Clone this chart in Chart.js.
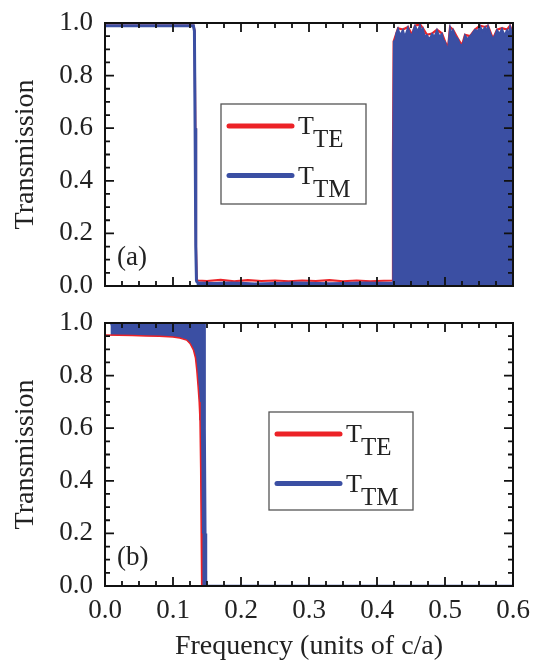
<!DOCTYPE html>
<html>
<head>
<meta charset="utf-8">
<script src="https://cdn.jsdelivr.net/npm/chart.js@4.4.1/dist/chart.umd.min.js"></script>
<style>
  html, body { margin: 0; padding: 0; background: #fff; }
  #wrap { position: relative; width: 540px; height: 662px; }
  #chartA { position: absolute; left: 0; top: 0; }
  #chartB { position: absolute; left: 0; top: 300px; }
</style>
</head>
<body>
<div id="wrap">
  <canvas id="chartA" width="540" height="300"></canvas>
  <canvas id="chartB" width="540" height="362"></canvas>
</div>
<script>
// Panel (a): [frequency, transmission] pairs
const teA = [
  [0, 0.99], [0.05, 0.99], [0.1, 0.99], [0.13, 0.99], [0.1318, 0.97], [0.1328, 0.6],
  [0.1338, 0.15], [0.1348, 0.03], [0.1358, 0.021], [0.15, 0.019], [0.17, 0.023],
  [0.19, 0.018], [0.21, 0.022], [0.23, 0.019], [0.25, 0.021], [0.27, 0.018],
  [0.29, 0.021], [0.31, 0.019], [0.33, 0.022], [0.35, 0.018], [0.37, 0.021],
  [0.39, 0.018], [0.41, 0.02], [0.4225, 0.021], [0.4235, 0.5], [0.4245, 0.93],
  [0.4309, 0.98], [0.4382, 0.975], [0.4456, 0.985], [0.4515, 0.955], [0.4559, 0.99],
  [0.4632, 0.995], [0.4676, 0.98], [0.4735, 0.955], [0.4809, 0.96], [0.4882, 0.975],
  [0.4956, 0.96], [0.5, 0.93], [0.5044, 0.905], [0.5074, 0.985], [0.5118, 0.975],
  [0.5191, 0.94], [0.525, 0.915], [0.5294, 0.955], [0.5368, 0.95], [0.5441, 0.975],
  [0.5515, 0.99], [0.5588, 0.985], [0.5632, 0.99], [0.5706, 0.94], [0.5765, 0.975],
  [0.5838, 0.98], [0.5912, 0.975], [0.5956, 0.99], [0.6, 0.96]
];
const tmEdgeA = [
  [0, 0.99], [0.05, 0.99], [0.1, 0.99], [0.13, 0.99], [0.1315, 0.97],
  [0.1325, 0.6], [0.1335, 0.15], [0.1345, 0.02], [0.136, 0.012]
];
const tmBandA = [
  [0.1345, 0.014], [0.16, 0.012], [0.18, 0.014], [0.2, 0.013], [0.22, 0.01],
  [0.25, 0.012], [0.28, 0.014], [0.3, 0.013], [0.33, 0.011], [0.35, 0.012],
  [0.38, 0.014], [0.4, 0.013], [0.4225, 0.014], [0.4235, 0.5], [0.4245, 0.93],
  [0.4265, 0.935], [0.428, 0.96], [0.4309, 0.98], [0.434, 0.955], [0.4382, 0.975],
  [0.441, 0.95], [0.4456, 0.985], [0.4485, 0.96], [0.4515, 0.955], [0.4535, 0.975],
  [0.4559, 0.99], [0.46, 0.97], [0.4632, 0.995], [0.4655, 0.97], [0.4676, 0.98],
  [0.4705, 0.95], [0.4735, 0.955], [0.477, 0.94], [0.4809, 0.96], [0.4845, 0.95],
  [0.4882, 0.975], [0.492, 0.95], [0.4956, 0.96], [0.498, 0.935], [0.5, 0.93],
  [0.5025, 0.91], [0.5044, 0.905], [0.506, 0.95], [0.5074, 0.985], [0.5095, 0.96],
  [0.5118, 0.975], [0.5155, 0.95], [0.5191, 0.94], [0.522, 0.92], [0.525, 0.915],
  [0.527, 0.93], [0.5294, 0.955], [0.533, 0.94], [0.5368, 0.95], [0.54, 0.96],
  [0.5441, 0.975], [0.548, 0.97], [0.5515, 0.99], [0.555, 0.97], [0.5588, 0.985],
  [0.561, 0.97], [0.5632, 0.99], [0.567, 0.96], [0.5706, 0.94], [0.5735, 0.955],
  [0.5765, 0.975], [0.58, 0.96], [0.5838, 0.98], [0.5875, 0.955], [0.5912, 0.975],
  [0.5935, 0.96], [0.5956, 0.99], [0.598, 0.97], [0.6, 0.96]
];

// Panel (b)
const teB = [
  [0, 0.954], [0.02, 0.953], [0.04, 0.952], [0.06, 0.951], [0.08, 0.95],
  [0.1, 0.947], [0.11, 0.943], [0.12, 0.935], [0.125, 0.922], [0.13, 0.898],
  [0.133, 0.868], [0.135, 0.82], [0.137, 0.755], [0.1385, 0.7], [0.1397, 0.63],
  [0.1407, 0.45], [0.1415, 0.2], [0.1422, 0], [0.3, 0], [0.6, 0]
];
const tmB = [
  [0.008, 0.996], [0.05, 0.996], [0.1, 0.996], [0.14, 0.996], [0.1456, 0.996],
  [0.1465, 0.6], [0.1475, 0.2], [0.1485, 0], [0.3, 0], [0.6, 0]
];

const legendNames = ["TE", "TM"];
const panelLabels = ["(a)", "(b)"];
const xTitle = "Frequency (units of c/a)";
const yTitle = "Transmission";

const RED = "#ec2227";
const BLUE = "#3b4fa3";
const SERIF = "'Liberation Serif', 'DejaVu Serif', serif";

function toPoints(pairs) {
  return pairs.map((p) => ({ x: p[0], y: p[1] }));
}

// Frame with inward ticks on all sides, plus the panel label
const frameTicks = {
  id: "frameTicks",
  afterDatasetsDraw(chart, args, opts) {
    const { ctx, chartArea: a } = chart;
    const xs = chart.scales.x;
    const ys = chart.scales.y;
    ctx.save();
    ctx.strokeStyle = "#111";
    ctx.lineWidth = 1.8;
    ctx.beginPath();
    for (let i = 0; i <= 24; i++) {
      const px = xs.getPixelForValue(i * 0.025);
      const len = i % 4 === 0 ? 9 : 5;
      ctx.moveTo(px, a.bottom);
      ctx.lineTo(px, a.bottom - len);
      ctx.moveTo(px, a.top);
      ctx.lineTo(px, a.top + len);
    }
    for (let i = 0; i <= 20; i++) {
      const py = ys.getPixelForValue(i * 0.05);
      const len = i % 4 === 0 ? 9 : 5;
      ctx.moveTo(a.left, py);
      ctx.lineTo(a.left + len, py);
      ctx.moveTo(a.right, py);
      ctx.lineTo(a.right - len, py);
    }
    ctx.stroke();
    ctx.lineWidth = 2;
    ctx.strokeRect(a.left, a.top, a.right - a.left, a.bottom - a.top);
    ctx.fillStyle = "#222";
    ctx.font = "27px " + SERIF;
    ctx.textBaseline = "middle";
    ctx.textAlign = "left";
    ctx.fillText(opts.label, a.left + 12, a.bottom - 28);
    ctx.restore();
  },
};

// Boxed legend with subscripted labels
const subLegend = {
  id: "subLegend",
  afterDraw(chart, args, opts) {
    const { ctx } = chart;
    const b = opts.box;
    const colors = [RED, BLUE];
    const rows = [b.y + 22, b.y + 71.5];
    ctx.save();
    ctx.fillStyle = "#fff";
    ctx.fillRect(b.x, b.y, b.w, b.h);
    ctx.strokeStyle = "#555";
    ctx.lineWidth = 1.3;
    ctx.strokeRect(b.x, b.y, b.w, b.h);
    legendNames.forEach((name, i) => {
      const ly = rows[i];
      ctx.strokeStyle = colors[i];
      ctx.lineWidth = 5;
      ctx.lineCap = "round";
      ctx.beginPath();
      ctx.moveTo(b.x + 8, ly);
      ctx.lineTo(b.x + 71, ly);
      ctx.stroke();
      ctx.fillStyle = "#222";
      ctx.textBaseline = "alphabetic";
      ctx.textAlign = "left";
      ctx.font = "26px " + SERIF;
      ctx.fillText("T", b.x + 77, ly + 8);
      const tw = ctx.measureText("T").width;
      ctx.font = "25px " + SERIF;
      ctx.fillText(name, b.x + 77 + tw - 1, ly + 21);
    });
    ctx.restore();
  },
};

function makeOptions(showX, label, box, padBottom) {
  return {
    responsive: false,
    animation: false,
    events: [],
    layout: { padding: { top: 23, right: 27, bottom: padBottom, left: 0 } },
    plugins: {
      legend: { display: false },
      tooltip: { enabled: false },
      frameTicks: { label: label },
      subLegend: { box: box },
    },
    elements: { point: { radius: 0 }, line: { tension: 0 } },
    scales: {
      x: {
        type: "linear",
        min: 0,
        max: 0.6,
        display: showX,
        grid: { display: false, drawTicks: false },
        border: { display: false },
        afterFit: (s) => {
          s.height = showX ? 76 : 0;
          s.paddingLeft = 0;
          s.paddingRight = 0;
        },
        ticks: {
          stepSize: 0.1,
          autoSkip: false,
          padding: 9,
          color: "#222",
          font: { family: SERIF, size: 27 },
          callback: (v) => Number(v).toFixed(1),
        },
        title: {
          display: true,
          text: xTitle,
          color: "#222",
          font: { family: SERIF, size: 28, lineHeight: 1 },
          padding: { top: 0, bottom: 1 },
        },
      },
      y: {
        min: 0,
        max: 1,
        afterFit: (s) => {
          s.width = 105;
          s.paddingTop = 0;
          s.paddingBottom = 0;
        },
        grid: { display: false, drawTicks: false },
        border: { display: false },
        ticks: {
          stepSize: 0.2,
          padding: 12,
          color: "#222",
          font: { family: SERIF, size: 27 },
          callback: (v) => Number(v).toFixed(1),
        },
        title: {
          display: true,
          text: yTitle,
          color: "#222",
          font: { family: SERIF, size: 28, lineHeight: 1.2 },
          padding: { top: 9, bottom: 0 },
        },
      },
    },
  };
}

// Chart (a)
new Chart(document.getElementById("chartA"), {
  type: "line",
  data: {
    datasets: [
      { label: "T_TM band", data: toPoints(tmBandA), borderColor: BLUE, backgroundColor: BLUE,
        borderWidth: 1.5, fill: "origin", order: 1 },
      { label: "T_TM", data: toPoints(tmEdgeA), borderColor: BLUE, borderWidth: 3,
        fill: false, order: 2 },
      { label: "T_TE", data: toPoints(teA), borderColor: RED, borderWidth: 2.2,
        fill: false, order: 3 },
    ],
  },
  options: makeOptions(false, panelLabels[0], { x: 221, y: 104, w: 145, h: 100 }, 14),
  plugins: [frameTicks, subLegend],
});

// Chart (b)
new Chart(document.getElementById("chartB"), {
  type: "line",
  data: {
    datasets: [
      { label: "T_TE", data: toPoints(teB), borderColor: RED, borderWidth: 1.5,
        fill: false, order: 1 },
      { label: "T_TM", data: toPoints(tmB), borderColor: BLUE, backgroundColor: BLUE,
        borderWidth: 2.5, fill: 0, order: 2 },
    ],
  },
  options: makeOptions(true, panelLabels[1], { x: 269, y: 112, w: 144, h: 98 }, 0),
  plugins: [frameTicks, subLegend],
});
</script>
</body>
</html>
